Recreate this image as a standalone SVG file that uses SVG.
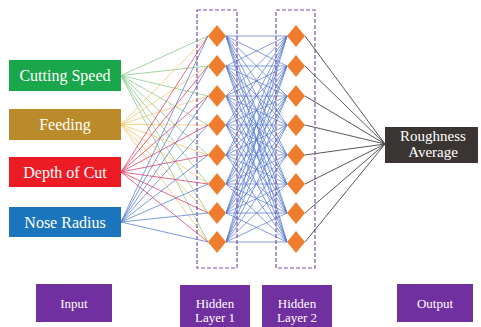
<svg xmlns="http://www.w3.org/2000/svg" width="481" height="327" viewBox="0 0 481 327">
<style>
.t{fill:#fff;text-anchor:middle}
.c line{stroke-width:0.8;fill:none}
.g line{stroke:#8cc98a}
.y line{stroke:#f4c56e}
.r line{stroke:#e0406a}
.b line{stroke:#5a82d2}
.h line{stroke:#4f74cc;stroke-width:0.7}
.o line{stroke:#444;stroke-width:0.9}
.dash{fill:none;stroke:#7b4fa8;stroke-width:1.2;stroke-dasharray:4 2}
.d{fill:#f07d2e}
.p{fill:#7030a0}
</style>
<rect width="481" height="327" fill="#fff"/>
<g id="connectors" class="c">
<g class="g">
<line x1="121" y1="75.5" x2="208" y2="36"/><line x1="121" y1="75.5" x2="208" y2="66"/><line x1="121" y1="75.5" x2="208" y2="96"/><line x1="121" y1="75.5" x2="208" y2="125"/><line x1="121" y1="75.5" x2="208" y2="155"/><line x1="121" y1="75.5" x2="208" y2="184"/><line x1="121" y1="75.5" x2="208" y2="213"/><line x1="121" y1="75.5" x2="208" y2="242"/>
</g>
<g class="y">
<line x1="121" y1="124.5" x2="208" y2="36"/><line x1="121" y1="124.5" x2="208" y2="66"/><line x1="121" y1="124.5" x2="208" y2="96"/><line x1="121" y1="124.5" x2="208" y2="125"/><line x1="121" y1="124.5" x2="208" y2="155"/><line x1="121" y1="124.5" x2="208" y2="184"/><line x1="121" y1="124.5" x2="208" y2="213"/><line x1="121" y1="124.5" x2="208" y2="242"/>
</g>
<g class="r">
<line x1="121" y1="172" x2="208" y2="36"/><line x1="121" y1="172" x2="208" y2="66"/><line x1="121" y1="172" x2="208" y2="96"/><line x1="121" y1="172" x2="208" y2="125"/><line x1="121" y1="172" x2="208" y2="155"/><line x1="121" y1="172" x2="208" y2="184"/><line x1="121" y1="172" x2="208" y2="213"/><line x1="121" y1="172" x2="208" y2="242"/>
</g>
<g class="b">
<line x1="121" y1="222" x2="208" y2="36"/><line x1="121" y1="222" x2="208" y2="66"/><line x1="121" y1="222" x2="208" y2="96"/><line x1="121" y1="222" x2="208" y2="125"/><line x1="121" y1="222" x2="208" y2="155"/><line x1="121" y1="222" x2="208" y2="184"/><line x1="121" y1="222" x2="208" y2="213"/><line x1="121" y1="222" x2="208" y2="242"/>
</g>
<g class="h">
<line x1="226" y1="36" x2="287" y2="36"/><line x1="226" y1="36" x2="287" y2="66"/><line x1="226" y1="36" x2="287" y2="96"/><line x1="226" y1="36" x2="287" y2="125"/><line x1="226" y1="36" x2="287" y2="155"/><line x1="226" y1="36" x2="287" y2="184"/><line x1="226" y1="36" x2="287" y2="213"/><line x1="226" y1="36" x2="287" y2="242"/>
<line x1="226" y1="66" x2="287" y2="36"/><line x1="226" y1="66" x2="287" y2="66"/><line x1="226" y1="66" x2="287" y2="96"/><line x1="226" y1="66" x2="287" y2="125"/><line x1="226" y1="66" x2="287" y2="155"/><line x1="226" y1="66" x2="287" y2="184"/><line x1="226" y1="66" x2="287" y2="213"/><line x1="226" y1="66" x2="287" y2="242"/>
<line x1="226" y1="96" x2="287" y2="36"/><line x1="226" y1="96" x2="287" y2="66"/><line x1="226" y1="96" x2="287" y2="96"/><line x1="226" y1="96" x2="287" y2="125"/><line x1="226" y1="96" x2="287" y2="155"/><line x1="226" y1="96" x2="287" y2="184"/><line x1="226" y1="96" x2="287" y2="213"/><line x1="226" y1="96" x2="287" y2="242"/>
<line x1="226" y1="125" x2="287" y2="36"/><line x1="226" y1="125" x2="287" y2="66"/><line x1="226" y1="125" x2="287" y2="96"/><line x1="226" y1="125" x2="287" y2="125"/><line x1="226" y1="125" x2="287" y2="155"/><line x1="226" y1="125" x2="287" y2="184"/><line x1="226" y1="125" x2="287" y2="213"/><line x1="226" y1="125" x2="287" y2="242"/>
<line x1="226" y1="155" x2="287" y2="36"/><line x1="226" y1="155" x2="287" y2="66"/><line x1="226" y1="155" x2="287" y2="96"/><line x1="226" y1="155" x2="287" y2="125"/><line x1="226" y1="155" x2="287" y2="155"/><line x1="226" y1="155" x2="287" y2="184"/><line x1="226" y1="155" x2="287" y2="213"/><line x1="226" y1="155" x2="287" y2="242"/>
<line x1="226" y1="184" x2="287" y2="36"/><line x1="226" y1="184" x2="287" y2="66"/><line x1="226" y1="184" x2="287" y2="96"/><line x1="226" y1="184" x2="287" y2="125"/><line x1="226" y1="184" x2="287" y2="155"/><line x1="226" y1="184" x2="287" y2="184"/><line x1="226" y1="184" x2="287" y2="213"/><line x1="226" y1="184" x2="287" y2="242"/>
<line x1="226" y1="213" x2="287" y2="36"/><line x1="226" y1="213" x2="287" y2="66"/><line x1="226" y1="213" x2="287" y2="96"/><line x1="226" y1="213" x2="287" y2="125"/><line x1="226" y1="213" x2="287" y2="155"/><line x1="226" y1="213" x2="287" y2="184"/><line x1="226" y1="213" x2="287" y2="213"/><line x1="226" y1="213" x2="287" y2="242"/>
<line x1="226" y1="242" x2="287" y2="36"/><line x1="226" y1="242" x2="287" y2="66"/><line x1="226" y1="242" x2="287" y2="96"/><line x1="226" y1="242" x2="287" y2="125"/><line x1="226" y1="242" x2="287" y2="155"/><line x1="226" y1="242" x2="287" y2="184"/><line x1="226" y1="242" x2="287" y2="213"/><line x1="226" y1="242" x2="287" y2="242"/>
</g>
<g class="o">
<line x1="305" y1="36" x2="385" y2="144"/><line x1="305" y1="66" x2="385" y2="144"/><line x1="305" y1="96" x2="385" y2="144"/><line x1="305" y1="125" x2="385" y2="144"/><line x1="305" y1="155" x2="385" y2="144"/><line x1="305" y1="184" x2="385" y2="144"/><line x1="305" y1="213" x2="385" y2="144"/><line x1="305" y1="242" x2="385" y2="144"/>
</g>
</g>
<g font-family="Liberation Serif, DejaVu Serif, serif">
<g id="input-cutting-speed"><rect x="9" y="60" width="112" height="31" fill="#1aa64a"/><text class="t" x="65" y="81" font-size="16">Cutting Speed</text></g>
<g id="input-feeding"><rect x="9" y="109" width="112" height="31" fill="#bb8a2a"/><text class="t" x="65" y="130" font-size="16">Feeding</text></g>
<g id="input-depth-of-cut"><rect x="9" y="157" width="112" height="30" fill="#ed1c24"/><text class="t" x="65" y="177.5" font-size="16">Depth of Cut</text></g>
<g id="input-nose-radius"><rect x="9" y="207" width="112" height="30" fill="#1b75bc"/><text class="t" x="65" y="227.5" font-size="16">Nose Radius</text></g>
<g id="hidden-layer-1">
<rect class="dash" x="197" y="10" width="40" height="258"/>
<polygon class="d" points="217,25 226,36 217,47 208,36"/>
<polygon class="d" points="217,55 226,66 217,77 208,66"/>
<polygon class="d" points="217,85 226,96 217,107 208,96"/>
<polygon class="d" points="217,114 226,125 217,136 208,125"/>
<polygon class="d" points="217,144 226,155 217,166 208,155"/>
<polygon class="d" points="217,173 226,184 217,195 208,184"/>
<polygon class="d" points="217,202 226,213 217,224 208,213"/>
<polygon class="d" points="217,231 226,242 217,253 208,242"/>
</g>
<g id="hidden-layer-2">
<rect class="dash" x="276" y="10" width="39" height="258"/>
<polygon class="d" points="296,25 305,36 296,47 287,36"/>
<polygon class="d" points="296,55 305,66 296,77 287,66"/>
<polygon class="d" points="296,85 305,96 296,107 287,96"/>
<polygon class="d" points="296,114 305,125 296,136 287,125"/>
<polygon class="d" points="296,144 305,155 296,166 287,155"/>
<polygon class="d" points="296,173 305,184 296,195 287,184"/>
<polygon class="d" points="296,202 305,213 296,224 287,213"/>
<polygon class="d" points="296,231 305,242 296,253 287,242"/>
</g>
<g id="output-roughness"><rect x="385" y="127" width="93" height="36" fill="#3a3533"/><text class="t" x="433" y="141" font-size="15">Roughness</text><text class="t" x="433" y="157" font-size="15">Average</text></g>
<g id="label-input"><rect class="p" x="36" y="284" width="76" height="38"/><text class="t" x="74" y="308" font-size="13">Input</text></g>
<g id="label-hidden-1"><rect class="p" x="180" y="285" width="70" height="42"/><text class="t" x="215" y="308" font-size="13">Hidden</text><text class="t" x="215" y="322" font-size="13">Layer 1</text></g>
<g id="label-hidden-2"><rect class="p" x="262" y="285" width="70" height="42"/><text class="t" x="297" y="308" font-size="13">Hidden</text><text class="t" x="297" y="322" font-size="13">Layer 2</text></g>
<g id="label-output"><rect class="p" x="397" y="284" width="76" height="38"/><text class="t" x="435" y="308" font-size="13">Output</text></g>
</g>
</svg>
